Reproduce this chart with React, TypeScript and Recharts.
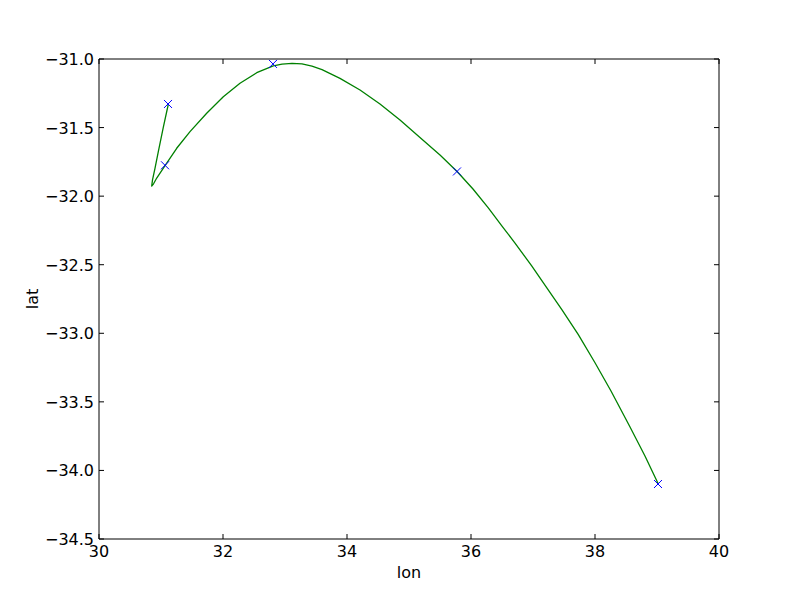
import React from 'react';
import { ComposedChart, Line, Scatter, XAxis, YAxis } from 'recharts';

const curveLon = [31.118, 31.037, 30.956, 30.903, 30.863, 30.85, 30.88, 30.931, 31.065, 31.253, 31.468, 31.737, 32.005, 32.274, 32.544, 32.811, 32.952, 33.113, 33.274, 33.435, 33.597, 33.887, 34.21, 34.532, 34.855, 35.177, 35.5, 35.779, 36.032, 36.279, 36.5, 36.71, 36.979, 37.226, 37.468, 37.731, 38.0, 38.258, 38.565, 38.806, 39.021];
const curveLat = [-31.33, -31.499, -31.678, -31.798, -31.882, -31.926, -31.91, -31.868, -31.778, -31.651, -31.53, -31.396, -31.275, -31.177, -31.1, -31.05, -31.037, -31.032, -31.036, -31.052, -31.077, -31.141, -31.226, -31.328, -31.445, -31.572, -31.7, -31.822, -31.948, -32.086, -32.218, -32.342, -32.509, -32.67, -32.83, -33.01, -33.215, -33.421, -33.683, -33.895, -34.099];

const markerLon = [31.113, 31.065, 32.806, 35.774, 39.016];
const markerLat = [-31.328, -31.775, -31.036, -31.82, -34.099];

const xTicks = [30, 32, 34, 36, 38, 40];
const yTicks = [-34.5, -34.0, -33.5, -33.0, -32.5, -32.0, -31.5, -31.0];

const curve = curveLon.map((lon, i) => ({ lon, lat: curveLat[i] }));
const markers = markerLon.map((lon, i) => ({ lon, lat: markerLat[i] }));

const FONT = '"DejaVu Sans", sans-serif';
const fmtY = (v: number) => v.toFixed(1).replace('-', '\u2212');
const TL = 5;

const BottomTick = (p: any) => (
  <g>
    <line x1={p.x} x2={p.x} y1={p.y} y2={p.y - TL} stroke="#000" />
    <text x={p.x} y={p.y + 18} textAnchor="middle" fontFamily={FONT} fontSize={16} fill="#000">{String(p.payload.value)}</text>
  </g>
);
const TopTick = (p: any) => (
  <line x1={p.x} x2={p.x} y1={p.y} y2={p.y + TL} stroke="#000" />
);
const LeftTick = (p: any) => (
  <g>
    <line x1={p.x} x2={p.x + TL} y1={p.y} y2={p.y} stroke="#000" />
    <text x={p.x - 5} y={p.y + 6} textAnchor="end" fontFamily={FONT} fontSize={16} fill="#000">{fmtY(p.payload.value)}</text>
  </g>
);
const RightTick = (p: any) => (
  <line x1={p.x} x2={p.x - TL} y1={p.y} y2={p.y} stroke="#000" />
);

const XMark = (p: any) => {
  const { cx, cy } = p;
  const s = 4;
  return (
    <g>
      <line x1={cx - s} y1={cy - s} x2={cx + s} y2={cy + s} stroke="#0000ff" strokeWidth={1} />
      <line x1={cx - s} y1={cy + s} x2={cx + s} y2={cy - s} stroke="#0000ff" strokeWidth={1} />
    </g>
  );
};

export default function App() {
  return (
    <div style={{ position: 'absolute', left: 0, top: 0, background: '#fff' }}>
      <ComposedChart width={800} height={600} margin={{ top: 39, right: 61, bottom: 21, left: 39 }}>
        <XAxis xAxisId="b" dataKey="lon" type="number" domain={[30, 40]} ticks={xTicks} orientation="bottom" height={40}
          tickSize={0} tickMargin={0} tickLine={false} axisLine={{ stroke: '#000' }} tick={<BottomTick />}
          interval={0} allowDataOverflow
          label={{ value: 'lon', position: 'insideBottom', offset: 1, fontFamily: FONT, fontSize: 16, fill: '#000' }} />
        <XAxis xAxisId="t" dataKey="lon" type="number" domain={[30, 40]} ticks={xTicks} orientation="top" height={20}
          tickSize={0} tickMargin={0} tickLine={false} axisLine={{ stroke: '#000' }} tick={<TopTick />}
          interval={0} allowDataOverflow />
        <YAxis yAxisId="l" dataKey="lat" type="number" domain={[-34.5, -31]} ticks={yTicks} orientation="left" width={60}
          tickSize={0} tickMargin={0} tickLine={false} axisLine={{ stroke: '#000' }} tick={<LeftTick />}
          interval={0} allowDataOverflow
          label={(props: any) => {
            const vb = props.viewBox || {};
            const cy = (vb.y ?? 59) + (vb.height ?? 480) / 2;
            return (
              <text transform={`translate(32, ${cy}) rotate(-90)`} textAnchor="middle" dominantBaseline="central"
                fontFamily={FONT} fontSize={16} fill="#000">lat</text>
            );
          }} />
        <YAxis yAxisId="r" dataKey="lat" type="number" domain={[-34.5, -31]} ticks={yTicks} orientation="right" width={20}
          tickSize={0} tickMargin={0} tickLine={false} axisLine={{ stroke: '#000' }} tick={<RightTick />}
          interval={0} allowDataOverflow />
        <Line xAxisId="b" yAxisId="l" data={curve} dataKey="lat" type="linear" stroke="#008000" strokeWidth={1.3}
          strokeLinejoin="round" dot={false} activeDot={false} isAnimationActive={false} />
        <Scatter xAxisId="b" yAxisId="l" data={markers} dataKey="lat" shape={<XMark />} isAnimationActive={false} />
      </ComposedChart>
    </div>
  );
}
